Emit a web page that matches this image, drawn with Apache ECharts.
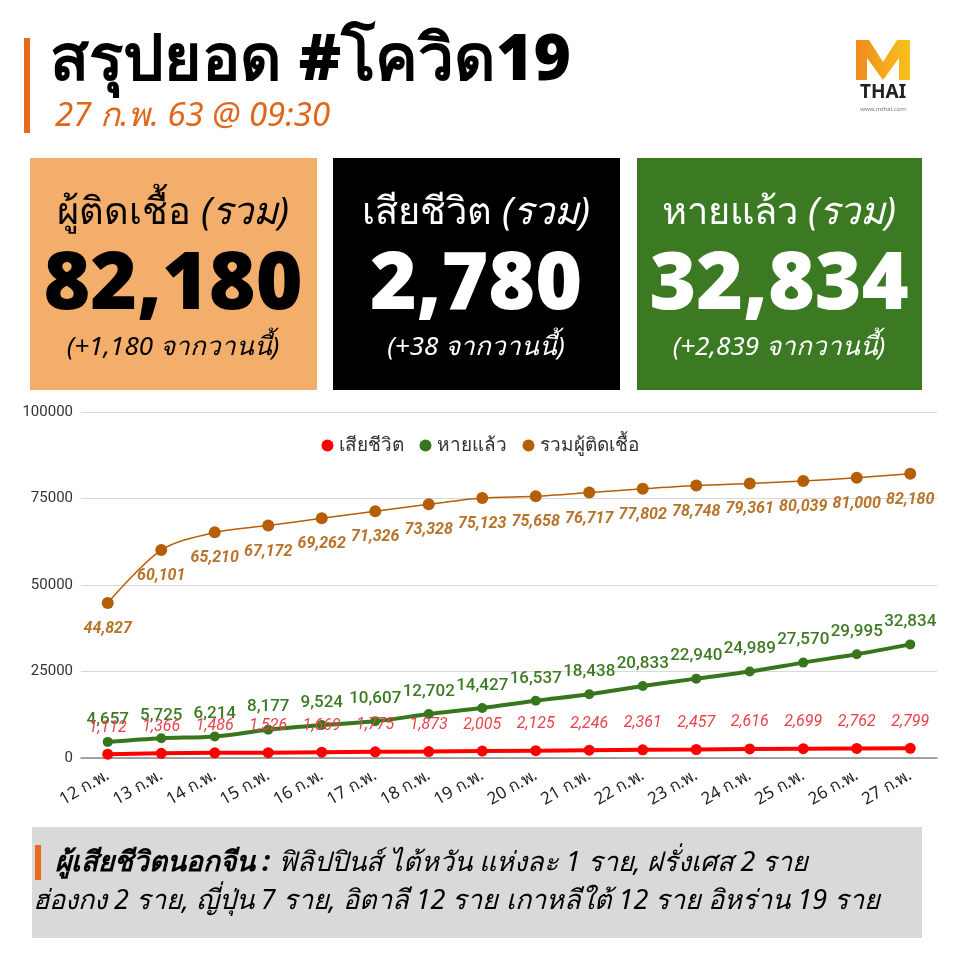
<!DOCTYPE html>
<html>
<head>
<meta charset="utf-8">
<script src="https://cdn.jsdelivr.net/npm/echarts@6/dist/echarts.min.js"></script>
<style>
html,body{margin:0;padding:0;background:#fff;}
#chart{width:960px;height:960px;}
</style>
</head>
<body>
<div id="chart"></div>
<script>
var categories = ['12 ก.พ.','13 ก.พ.','14 ก.พ.','15 ก.พ.','16 ก.พ.','17 ก.พ.','18 ก.พ.','19 ก.พ.','20 ก.พ.','21 ก.พ.','22 ก.พ.','23 ก.พ.','24 ก.พ.','25 ก.พ.','26 ก.พ.','27 ก.พ.'];
var deaths = [1112,1366,1486,1526,1669,1775,1873,2005,2125,2246,2361,2457,2616,2699,2762,2799];
var recovered = [4657,5725,6214,8177,9524,10607,12702,14427,16537,18438,20833,22940,24989,27570,29995,32834];
var totalCases = [44827,60101,65210,67172,69262,71326,73328,75123,75658,76717,77802,78748,79361,80039,81000,82180];
var seriesNames = ['เสียชีวิต','หายแล้ว','รวมผู้ติดเชื้อ'];
var yTicks = [0,25000,50000,75000,100000];

var FONT = '"Noto Sans", "DejaVu Sans", sans-serif';
var NUMFONT = 'Roboto, "Noto Sans", sans-serif';
var fmt = function(p){ return Number(p.value).toLocaleString('en-US'); };

var chart = echarts.init(document.getElementById('chart'), null, {renderer:'canvas'});
var option = {
  backgroundColor:'#ffffff',
  animation:false,
  textStyle:{fontFamily:FONT},
  legend:{
    top:431, left:'center',
    icon:'circle', itemWidth:12, itemHeight:12, itemGap:16,
    textStyle:{fontSize:19, color:'#333', fontFamily:FONT},
    data:seriesNames
  },
  grid:{left:81, right:23, top:412, bottom:202},
  xAxis:{
    type:'category', data:categories, boundaryGap:true,
    axisLine:{lineStyle:{color:'#888', width:1.5}},
    axisTick:{show:false},
    axisLabel:{rotate:30, fontSize:17, color:'#222', margin:16, fontFamily:FONT}
  },
  yAxis:{
    type:'value', min:yTicks[0], max:yTicks[yTicks.length-1], interval:25000,
    axisLine:{show:false}, axisTick:{show:false},
    axisLabel:{fontSize:15, color:'#333', margin:8, fontFamily:NUMFONT, formatter:function(v){return String(v);}},
    splitLine:{lineStyle:{color:'#d9d9d9', width:1}}
  },
  series:[
    {name:seriesNames[0], type:'line', data:deaths, z:5,
     symbol:'circle', symbolSize:11,
     itemStyle:{color:'#ff0000'}, lineStyle:{color:'#ff0000', width:4},
     label:{show:true, position:'top', distance:13, formatter:fmt, color:'#e8424a',
            fontSize:16, fontStyle:'italic', fontFamily:NUMFONT}},
    {name:seriesNames[1], type:'line', data:recovered, smooth:0.3, z:4,
     symbol:'circle', symbolSize:10,
     itemStyle:{color:'#38761d'}, lineStyle:{color:'#38761d', width:4},
     label:{show:true, position:'top', distance:9, formatter:fmt, color:'#3d7a23',
            fontSize:17, fontWeight:500, fontFamily:NUMFONT}},
    {name:seriesNames[2], type:'line', data:totalCases, smooth:0.3, z:3,
     symbol:'circle', symbolSize:12,
     itemStyle:{color:'#b45f06'}, lineStyle:{color:'#b45f06', width:1.5},
     label:{show:true, position:'bottom', distance:12, formatter:fmt, color:'#b8732a',
            fontSize:16, fontWeight:'bold', fontStyle:'italic', fontFamily:NUMFONT}}
  ],
  graphic:[
    // header
    {type:'rect', shape:{x:24,y:38,width:6,height:95}, style:{fill:'#e8691a'}},
    {type:'text', left:50, top:30, style:{text:'สรุปยอด #โควิด19', fontSize:64, fontWeight:900, fill:'#000', fontFamily:FONT}},
    {type:'text', left:55, top:100, style:{text:'27 ก.พ. 63 @ 09:30', fontSize:33, fontStyle:'italic', fill:'#e0661a', fontFamily:FONT}},
    // logo
    {type:'polygon', shape:{points:[[856,80],[856,40],[869,40],[883,62],[897,40],[910,40],[910,80],[899,80],[899,58],[883,80],[867,58],[867,80]]},
     style:{fill:new echarts.graphic.LinearGradient(0,0,1,0,[{offset:0,color:'#f08a1c'},{offset:1,color:'#f9c21b'}])}},
    {type:'text', x:883, y:93, style:{text:'THAI', fontSize:19, fontWeight:'bold', fill:'#222', align:'center', verticalAlign:'middle', fontFamily:FONT}},
    {type:'text', x:883, y:109, style:{text:'www.mthai.com', fontSize:6, fill:'#777', align:'center', verticalAlign:'middle', fontFamily:FONT}},
    // boxes
    {type:'rect', shape:{x:30,y:158,width:287,height:232}, style:{fill:'#f4ae6b'}},
    {type:'rect', shape:{x:333,y:158,width:287,height:232}, style:{fill:'#000000'}},
    {type:'rect', shape:{x:637,y:158,width:285,height:232}, style:{fill:'#3b7a23'}},
    {type:'text', x:173, y:213, style:{text:'{a|ผู้ติดเชื้อ }{b|(รวม)}', align:'center', verticalAlign:'middle',
      rich:{a:{fontSize:38, fill:'#000', fontFamily:FONT}, b:{fontSize:38, fill:'#000', fontStyle:'italic', fontFamily:FONT}}}},
    {type:'text', x:173, y:286, style:{text:'82,180', fontSize:80, fontWeight:900, fill:'#000', align:'center', verticalAlign:'middle', fontFamily:FONT}},
    {type:'text', x:173, y:348, style:{text:'(+1,180 จากวานนี้)', fontSize:26, fontStyle:'italic', fill:'#000', align:'center', verticalAlign:'middle', fontFamily:FONT}},
    {type:'text', x:476, y:213, style:{text:'{a|เสียชีวิต }{b|(รวม)}', align:'center', verticalAlign:'middle',
      rich:{a:{fontSize:38, fill:'#fff', fontFamily:FONT}, b:{fontSize:38, fill:'#fff', fontStyle:'italic', fontFamily:FONT}}}},
    {type:'text', x:476, y:286, style:{text:'2,780', fontSize:80, fontWeight:900, fill:'#fff', align:'center', verticalAlign:'middle', fontFamily:FONT}},
    {type:'text', x:476, y:348, style:{text:'(+38 จากวานนี้)', fontSize:26, fontStyle:'italic', fill:'#fff', align:'center', verticalAlign:'middle', fontFamily:FONT}},
    {type:'text', x:779, y:213, style:{text:'{a|หายแล้ว }{b|(รวม)}', align:'center', verticalAlign:'middle',
      rich:{a:{fontSize:38, fill:'#fff', fontFamily:FONT}, b:{fontSize:38, fill:'#fff', fontStyle:'italic', fontFamily:FONT}}}},
    {type:'text', x:779, y:286, style:{text:'32,834', fontSize:80, fontWeight:900, fill:'#fff', align:'center', verticalAlign:'middle', fontFamily:FONT}},
    {type:'text', x:779, y:348, style:{text:'(+2,839 จากวานนี้)', fontSize:26, fontStyle:'italic', fill:'#fff', align:'center', verticalAlign:'middle', fontFamily:FONT}},
    // footer
    {type:'rect', shape:{x:32,y:827,width:890,height:111}, style:{fill:'#d9d9d9'}},
    {type:'rect', shape:{x:35,y:845,width:6,height:35}, style:{fill:'#e8691a'}},
    {type:'text', x:55, y:863, style:{text:'{a|ผู้เสียชีวิตนอกจีน : }{b|ฟิลิปปินส์ ไต้หวัน แห่งละ 1 ราย, ฝรั่งเศส 2 ราย}', verticalAlign:'middle',
      rich:{a:{fontSize:28, fontWeight:'bold', fontStyle:'italic', fill:'#000', fontFamily:FONT}, b:{fontSize:27, fontStyle:'italic', fill:'#000', fontFamily:FONT}}}},
    {type:'text', x:33, y:901, style:{text:'ฮ่องกง 2 ราย, ญี่ปุ่น 7 ราย, อิตาลี 12 ราย เกาหลีใต้ 12 ราย อิหร่าน 19 ราย', verticalAlign:'middle',
      fontSize:27, fontStyle:'italic', fill:'#000', fontFamily:FONT}}
  ]
};
chart.setOption(option);
</script>
</body>
</html>
